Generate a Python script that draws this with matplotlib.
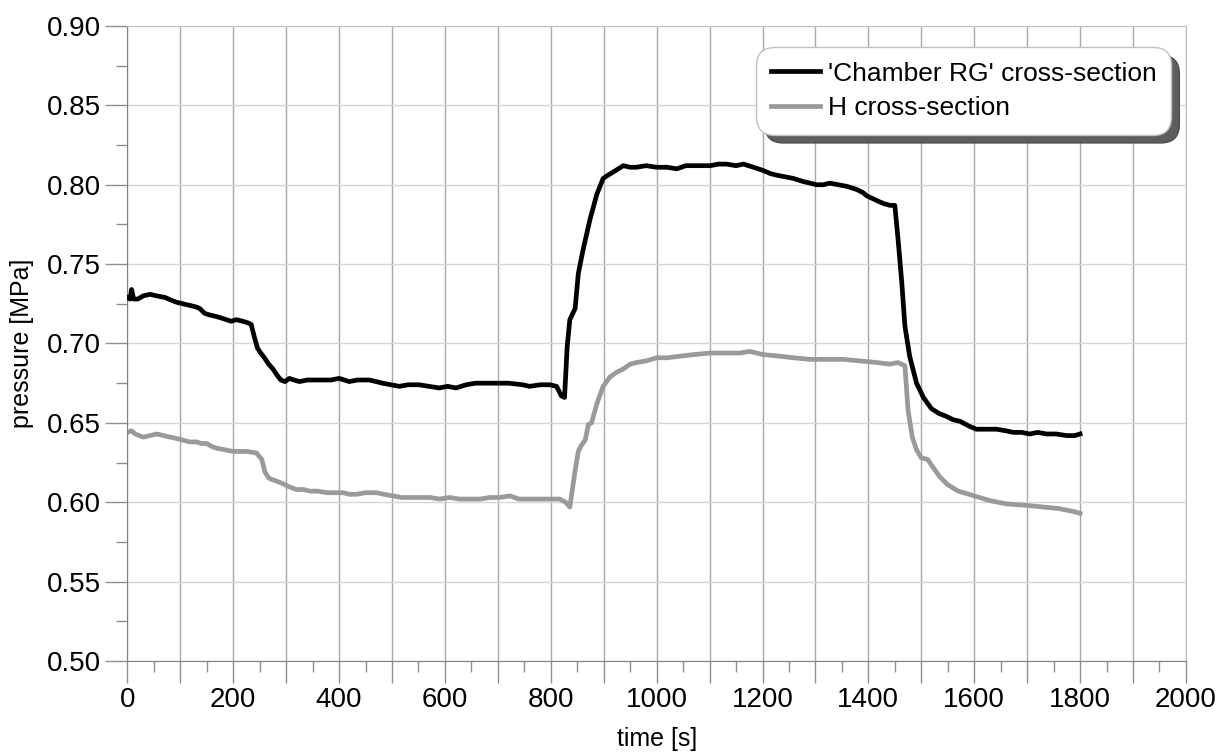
import matplotlib
matplotlib.use("Agg")
import matplotlib.pyplot as plt
from matplotlib.ticker import MultipleLocator, FuncFormatter

plt.rcParams["font.family"] = ["Liberation Sans", "DejaVu Sans"]

# 'Chamber RG' cross-section
t_rg = [0, 5, 8, 12, 20, 30, 43, 55, 71, 85, 93, 105, 118, 130, 137, 146, 155,
        168, 178, 187, 196, 206, 218, 228, 234, 240, 246, 252, 259, 267, 275, 283,
        290, 298, 306, 315, 325, 340, 356, 370, 385, 400, 410, 419, 435, 457, 470,
        482, 498, 514, 530, 551, 570, 589, 605, 621, 640, 658, 683, 698, 720, 747,
        760, 780, 798, 811, 820, 826, 831, 836, 846, 852, 861, 874, 887, 899, 908,
        918, 937, 950, 962, 980, 1000, 1020, 1038, 1055, 1069, 1085, 1101, 1117,
        1132, 1150, 1164, 1183, 1201, 1215, 1227, 1243, 1258, 1277, 1290, 1302,
        1315, 1327, 1343, 1359, 1378, 1390, 1397, 1416, 1430, 1441, 1450, 1456,
        1463, 1469, 1478, 1491, 1504, 1519, 1533, 1548, 1560, 1573, 1590, 1604,
        1620, 1642, 1660, 1674, 1690, 1705, 1720, 1737, 1755, 1774, 1790, 1800]
p_rg = [0.729, 0.728, 0.734, 0.728, 0.728, 0.730, 0.731, 0.730, 0.729, 0.727,
        0.726, 0.725, 0.724, 0.723, 0.722, 0.719, 0.718, 0.717, 0.716, 0.715,
        0.714, 0.715, 0.714, 0.713, 0.712, 0.704, 0.697, 0.694, 0.691, 0.687,
        0.684, 0.680, 0.677, 0.676, 0.678, 0.677, 0.676, 0.677, 0.677, 0.677,
        0.677, 0.678, 0.677, 0.676, 0.677, 0.677, 0.676, 0.675, 0.674, 0.673,
        0.674, 0.674, 0.673, 0.672, 0.673, 0.672, 0.674, 0.675, 0.675, 0.675,
        0.675, 0.674, 0.673, 0.674, 0.674, 0.673, 0.667, 0.666, 0.698, 0.715,
        0.722, 0.744, 0.759, 0.778, 0.794, 0.804, 0.806, 0.808, 0.812, 0.811,
        0.811, 0.812, 0.811, 0.811, 0.810, 0.812, 0.812, 0.812, 0.812, 0.813,
        0.813, 0.812, 0.813, 0.811, 0.809, 0.807, 0.806, 0.805, 0.804, 0.802,
        0.801, 0.800, 0.800, 0.801, 0.800, 0.799, 0.797, 0.795, 0.793, 0.790,
        0.788, 0.787, 0.787, 0.766, 0.739, 0.711, 0.692, 0.675, 0.666, 0.659,
        0.656, 0.654, 0.652, 0.651, 0.648, 0.646, 0.646, 0.646, 0.645, 0.644,
        0.644, 0.643, 0.644, 0.643, 0.643, 0.642, 0.642, 0.643]

# H cross-section
t_h = [0, 8, 15, 30, 43, 56, 68, 81, 95, 106, 118, 131, 140, 150, 160, 169, 185,
       200, 215, 226, 244, 254, 260, 268, 276, 284, 292, 304, 320, 333, 345, 360,
       377, 392, 408, 420, 433, 450, 471, 485, 502, 518, 534, 552, 572, 590, 609,
       628, 647, 666, 685, 703, 723, 740, 760, 780, 800, 817, 828, 836, 846, 852,
       858, 865, 871, 877, 887, 899, 912, 925, 937, 950, 962, 980, 1000, 1020,
       1044, 1070, 1101, 1130, 1157, 1176, 1201, 1233, 1258, 1290, 1320, 1352,
       1385, 1416, 1440, 1456, 1469, 1475, 1483, 1491, 1500, 1512, 1520, 1535,
       1550, 1570, 1600, 1630, 1660, 1700, 1730, 1760, 1790, 1800]
p_h = [0.644, 0.645, 0.643, 0.641, 0.642, 0.643, 0.642, 0.641, 0.640, 0.639,
       0.638, 0.638, 0.637, 0.637, 0.635, 0.634, 0.633, 0.632, 0.632, 0.632,
       0.631, 0.627, 0.619, 0.615, 0.614, 0.613, 0.612, 0.610, 0.608, 0.608,
       0.607, 0.607, 0.606, 0.606, 0.606, 0.605, 0.605, 0.606, 0.606, 0.605,
       0.604, 0.603, 0.603, 0.603, 0.603, 0.602, 0.603, 0.602, 0.602, 0.602,
       0.603, 0.603, 0.604, 0.602, 0.602, 0.602, 0.602, 0.602, 0.600, 0.597,
       0.620, 0.632, 0.636, 0.639, 0.649, 0.650, 0.662, 0.673, 0.679, 0.682,
       0.684, 0.687, 0.688, 0.689, 0.691, 0.691, 0.692, 0.693, 0.694, 0.694,
       0.694, 0.695, 0.693, 0.692, 0.691, 0.690, 0.690, 0.690, 0.689, 0.688,
       0.687, 0.688, 0.686, 0.658, 0.641, 0.633, 0.628, 0.627, 0.623, 0.616,
       0.611, 0.607, 0.604, 0.601, 0.599, 0.598, 0.597, 0.596, 0.594, 0.593]

fig = plt.figure(figsize=(12.22, 7.55), dpi=100)
ax = fig.add_axes([0.1042, 0.1245, 0.8663, 0.8411])

ax.plot(t_rg, p_rg, color="black", lw=3.4, label="'Chamber RG' cross-section",
        solid_joinstyle="round", zorder=3)
ax.plot(t_h, p_h, color="#9a9a9a", lw=3.4, label="H cross-section",
        solid_joinstyle="round", zorder=2)

ax.set_xlim(0, 2000)
ax.set_ylim(0.5, 0.9)

ax.xaxis.set_major_locator(MultipleLocator(100))
ax.xaxis.set_minor_locator(MultipleLocator(50))
ax.xaxis.set_major_formatter(FuncFormatter(lambda v, p: f"{v:.0f}" if round(v) % 200 == 0 else ""))
ax.yaxis.set_major_locator(MultipleLocator(0.05))
ax.yaxis.set_minor_locator(MultipleLocator(0.025))
ax.yaxis.set_major_formatter(FuncFormatter(lambda v, p: f"{v:.2f}"))

ax.grid(True, which="major", axis="x", color="#a8a8a8", lw=1)
ax.grid(True, which="major", axis="y", color="#d6d6d6", lw=1)
ax.set_axisbelow(True)

ax.tick_params(which="major", direction="out", length=16, width=1, color="#909090",
               labelsize=20, pad=3)
ax.tick_params(which="minor", direction="out", length=8, width=1, color="#909090")

for side in ["left", "bottom"]:
    ax.spines[side].set_color("#808080")
for side in ["top", "right"]:
    ax.spines[side].set_color("#c0c0c0")

ax.set_xlabel("time [s]", fontsize=18)
ax.set_ylabel("pressure [MPa]", fontsize=18)
ax.xaxis.set_label_coords(0.5, -0.104)
ax.yaxis.set_label_coords(-0.088, 0.5)

leg = ax.legend(loc="upper right", bbox_to_anchor=(1171 / 1222, 708 / 755),
                bbox_transform=fig.transFigure, borderaxespad=0, fontsize=19,
                handlelength=1.85, handletextpad=0.3, labelspacing=0.4,
                borderpad=0.55, fancybox=True, framealpha=1,
                shadow={"ox": 6, "oy": -6, "facecolor": "#5e5e5e", "alpha": 1})
leg.get_frame().set_edgecolor("#c0c0c0")
leg.get_frame().set_linewidth(1)
leg.get_frame().set_boxstyle("round,pad=0,rounding_size=0.7")
for line in leg.get_lines():
    line.set_linewidth(3.4)

fig.savefig("out.png", dpi=100)
